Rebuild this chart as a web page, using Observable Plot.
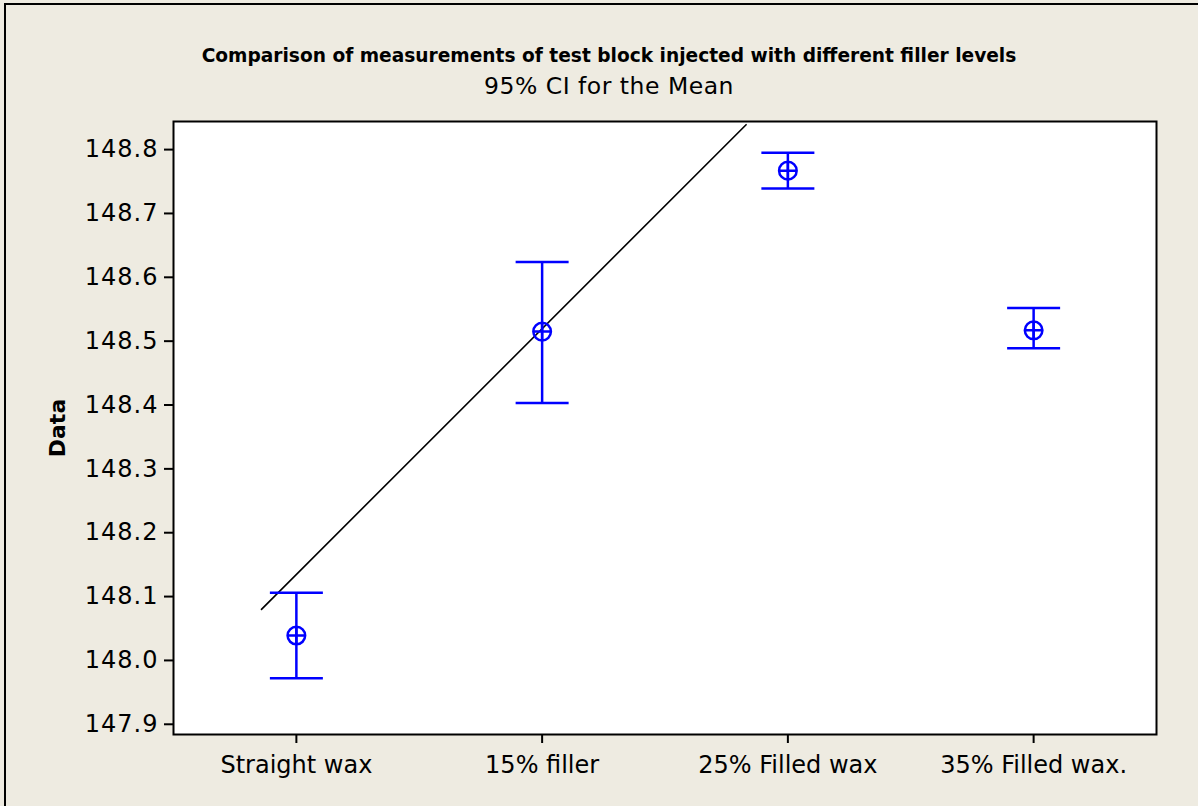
<!DOCTYPE html>
<html>
<head>
<meta charset="utf-8">
<script src="https://cdn.jsdelivr.net/npm/d3@7"></script>
<script src="https://cdn.jsdelivr.net/npm/@observablehq/plot@0.6"></script>
<style>
  html, body { margin: 0; padding: 0; }
  body { width: 1198px; height: 806px; overflow: hidden; }
  #page { position: absolute; left: 0; top: 0; width: 1198px; height: 806px; background: #EEEBE1; }
  #edge { position: absolute; left: 4px; top: 3px; right: 0; bottom: 0; border-top: 2px solid #000; border-left: 2px solid #000; }
  .title { position: absolute; left: 0; width: 1218px; text-align: center; font-family: "DejaVu Sans", sans-serif; color: #000; white-space: nowrap; line-height: 1; }
  #t1 { top: 47px; font-size: 18.6px; font-weight: bold; }
  #t2 { top: 75px; font-size: 23.5px; letter-spacing: 0.5px; }
  #chart { position: absolute; left: 0; top: 0; }
</style>
</head>
<body>
<div id="page">
  <div id="edge"></div>
  <div id="chart"></div>
  <div class="title" id="t1"></div>
  <div class="title" id="t2"></div>
</div>
<script>
const titleText = "Comparison of measurements of test block injected with different filler levels";
const subtitleText = "95% CI for the Mean";
const yLabel = "Data";
const categories = ["Straight wax", "15% filler", "25% Filled wax", "35% Filled wax."];
const means = [148.039, 148.515, 148.767, 148.517];
const lower = [147.972, 148.403, 148.739, 148.489];
const upper = [148.106, 148.624, 148.795, 148.552];
const yTicks = [147.9, 148.0, 148.1, 148.2, 148.3, 148.4, 148.5, 148.6, 148.7, 148.8];
const refLineX = [-0.142, 1.830];
const refLineY = [148.080, 148.839];

document.getElementById("t1").textContent = titleText;
document.getElementById("t2").textContent = subtitleText;

const rows = categories.map((c, i) => ({i, c, mean: means[i], lo: lower[i], hi: upper[i]}));
const refLine = refLineX.map((x, k) => ({x, y: refLineY[k]}));
const blue = "#0000FF";

const capSymbol = {
  draw(ctx, size) {
    const w = Math.sqrt(size / Math.PI);
    ctx.moveTo(-w, 0);
    ctx.lineTo(w, 0);
  }
};

const chart = Plot.plot({
  width: 1198,
  height: 806,
  marginLeft: 173,
  marginRight: 42,
  marginTop: 121,
  marginBottom: 72,
  style: {background: "transparent", fontFamily: "DejaVu Sans, sans-serif", color: "#000", overflow: "visible"},
  x: {domain: [-0.5, 3.5]},
  y: {domain: [147.884, 148.844]},
  marks: [
    Plot.frame({fill: "white", stroke: null}),
    Plot.line(refLine, {x: "x", y: "y", stroke: "#000", strokeWidth: 1.6}),
    Plot.ruleX(rows, {x: "i", y1: "lo", y2: "hi", stroke: blue, strokeWidth: 2.5}),
    Plot.dot(rows, {x: "i", y: "hi", symbol: capSymbol, r: 26.5, stroke: blue, strokeWidth: 2.5, fill: "none"}),
    Plot.dot(rows, {x: "i", y: "lo", symbol: capSymbol, r: 26.5, stroke: blue, strokeWidth: 2.5, fill: "none"}),
    Plot.dot(rows, {x: "i", y: "mean", r: 8.8, stroke: blue, strokeWidth: 2.5, fill: "none"}),
    Plot.dot(rows, {x: "i", y: "mean", symbol: "plus", r: 5.6, stroke: blue, strokeWidth: 2.5}),
    Plot.frame({stroke: "#000", strokeWidth: 2}),
    Plot.axisY({ticks: yTicks, tickFormat: d3.format(".1f"), tickSize: 9, tickPadding: 6, fontSize: 24, label: null, strokeWidth: 2}),
    Plot.axisX({ticks: [0, 1, 2, 3], tickFormat: (d) => categories[d], tickSize: 9, tickPadding: 12, fontSize: 24, label: null, strokeWidth: 2}),
    Plot.text([yLabel], {frameAnchor: "left", dx: -116, rotate: -90, textAnchor: "middle", fontSize: 22, fontWeight: "bold", fill: "#000"})
  ]
});
document.getElementById("chart").appendChild(chart);
chart.querySelectorAll('g[aria-label="y-axis tick label"]').forEach(g => g.setAttribute("letter-spacing", "1"));
</script>
</body>
</html>
